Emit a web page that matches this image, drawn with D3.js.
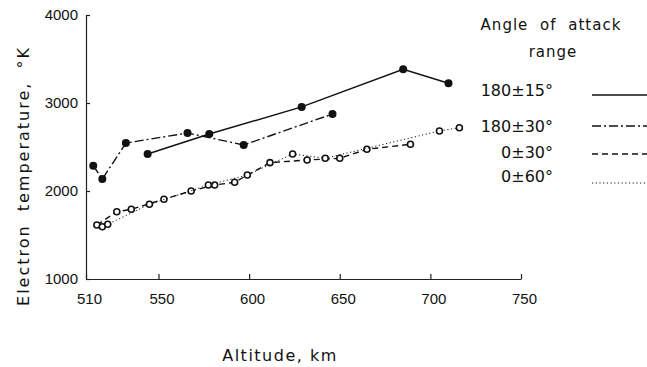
<!DOCTYPE html>
<html lang="en">
<head>
    <meta charset="UTF-8">
    <title>Electron temperature vs altitude</title>
    <script src="https://cdn.jsdelivr.net/npm/d3@7"></script>
    <style>
        body { margin: 0; background: #fff; }
        svg { font-family: "DejaVu Sans", sans-serif; fill: #111; }
        .tick text { font-size: 15px; fill: #111; }
        .domain, .tick line { stroke: #222; stroke-width: 1.2; }
    </style>
</head>
<body>
<div id="chart"></div>
<script type="text/javascript">
    // altitude (km) / electron temperature (K)
    var s15_alt  = [544, 578, 629, 685, 710];
    var s15_temp = [2420, 2648, 2955, 3383, 3224];

    var s30_alt  = [514, 519, 532, 566, 597, 646];
    var s30_temp = [2287, 2136, 2545, 2659, 2523, 2875];

    var z30_alt  = [516, 527, 535, 553, 568, 581, 592, 611.5, 632, 650, 665, 689];
    var z30_temp = [1614, 1765, 1792, 1906, 2000, 2068, 2099, 2322, 2352, 2372, 2474, 2531];

    var z60_alt  = [519, 522, 545, 577.5, 599, 624, 642, 705, 716];
    var z60_temp = [1594, 1622, 1849, 2068, 2182, 2420, 2372, 2682, 2719];

    var xTicks = [510, 550, 600, 650, 700, 750];
    var yTicks = [1000, 2000, 3000, 4000];
    var legendLabels = ['180\u00b115\u00b0', '180\u00b130\u00b0', '0\u00b130\u00b0', '0\u00b160\u00b0'];

    var svgw = 647, svgh = 367;
    var svg = d3.select('#chart')
        .append('svg')
        .attr('width', svgw)
        .attr('height', svgh);

    var x_scale = d3.scaleLinear().domain([510, 750]).range([86, 521]);
    var y_scale = d3.scaleLinear().domain([1000, 4000]).range([279, 15]);

    // axes, ticks pointing inward like the original
    svg.append('g')
        .attr('transform', 'translate(0,279)')
        .call(d3.axisBottom(x_scale).tickValues(xTicks).tickSize(-5).tickSizeOuter(0).tickPadding(14))
        .selectAll('text').attr('dx', 3);

    svg.append('g')
        .attr('transform', 'translate(86,0)')
        .call(d3.axisLeft(y_scale).tickValues(yTicks).tickFormat(d3.format('d'))
            .tickSize(-4).tickSizeOuter(0).tickPadding(8));

    var series = [
        {alt: s15_alt, temp: s15_temp, dash: null, filled: true},
        {alt: s30_alt, temp: s30_temp, dash: '9,3,2,3', filled: true},
        {alt: z30_alt, temp: z30_temp, dash: '6,4', filled: false},
        {alt: z60_alt, temp: z60_temp, dash: '1.2,2.5', filled: false}
    ];

    var line = d3.line()
        .x(function (d) { return x_scale(d[0]); })
        .y(function (d) { return y_scale(d[1]); });

    series.forEach(function (s) {
        var pts = s.alt.map(function (a, i) { return [a, s.temp[i]]; });
        svg.append('path')
            .datum(pts)
            .attr('d', line)
            .attr('fill', 'none')
            .attr('stroke', '#111')
            .attr('stroke-width', s.dash === '1.2,2.5' ? 1 : 1.4)
            .attr('stroke-dasharray', s.dash);

        svg.append('g').selectAll('circle')
            .data(pts)
            .enter()
            .append('circle')
            .attr('cx', function (d) { return x_scale(d[0]); })
            .attr('cy', function (d) { return y_scale(d[1]); })
            .attr('r', s.filled ? 4 : 3)
            .attr('fill', s.filled ? '#111' : '#fff')
            .attr('stroke', '#111')
            .attr('stroke-width', s.filled ? 0 : 1.6);
    });

    // axis titles
    svg.append('text')
        .text('Altitude, km')
        .attr('x', 280).attr('y', 361)
        .attr('text-anchor', 'middle')
        .attr('font-size', 16)
        .attr('letter-spacing', 1.5);

    svg.append('text')
        .text('Electron  temperature, \u00b0K')
        .attr('transform', 'translate(29,176) rotate(-90)')
        .attr('text-anchor', 'middle')
        .attr('font-size', 16)
        .attr('letter-spacing', 2)
        .attr('word-spacing', 6);

    // legend
    svg.append('text')
        .text('Angle of attack')
        .attr('x', 551).attr('y', 30)
        .attr('text-anchor', 'middle')
        .attr('font-size', 15)
        .attr('letter-spacing', 1)
        .attr('word-spacing', 6);
    svg.append('text')
        .text('range')
        .attr('x', 553).attr('y', 57)
        .attr('text-anchor', 'middle')
        .attr('font-size', 15)
        .attr('letter-spacing', 1);

    var legY = [96, 132, 158, 182];
    var lineY = [95, 126, 154, 183];
    legendLabels.forEach(function (lab, i) {
        svg.append('text')
            .text(lab)
            .attr('x', 553).attr('y', legY[i])
            .attr('text-anchor', 'end')
            .attr('font-size', 16);
        svg.append('line')
            .attr('x1', 592).attr('x2', 650)
            .attr('y1', lineY[i]).attr('y2', lineY[i])
            .attr('stroke', '#111')
            .attr('stroke-width', i === 3 ? 1 : 1.4)
            .attr('stroke-dasharray', series[i].dash);
    });
</script>
</body>
</html>
